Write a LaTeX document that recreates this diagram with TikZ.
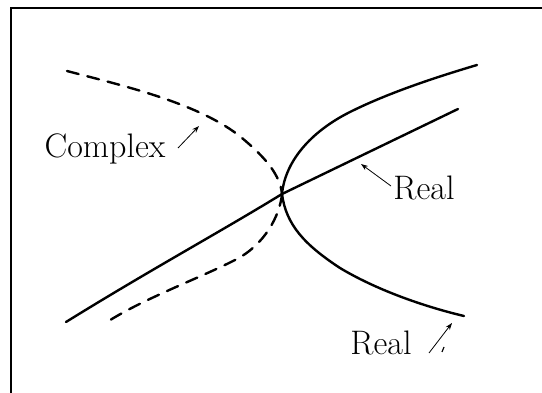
\documentclass[tikz,border=0pt]{standalone}
\usetikzlibrary{arrows.meta}
\begin{document}
\begin{tikzpicture}[x=1pt,y=-1pt,
  curve/.style={line width=2.4pt,line cap=round,line join=round},
  dcurve/.style={curve,dash pattern=on 12pt off 9pt},
  lbl/.style={font=\fontsize{34}{40}\selectfont,inner sep=0pt},
  ptr/.style={line width=0.8pt,-{Stealth[length=7pt,width=5pt]}}]
\useasboundingbox (0,0) rectangle (542,393);
\fill[white] (0,0) rectangle (542,393);
% frame
\draw[line width=1.4pt] (11,393) -- (11,8) -- (542,8);
% crossing point
\coordinate (X) at (282,194);
% straight line
\draw[curve] (66,322) .. controls (150,270) and (220,232) .. (X) -- (458,109);
% upper solid branch
\draw[curve] (X) .. controls (285,162) and (310,132) .. (350,112) .. controls (390,92) and (440,76) .. (477,65);
% lower solid branch
\draw[curve] (X) .. controls (286,225) and (305,245) .. (340,268) .. controls (380,292) and (430,308) .. (464,316);
% dashed upper branch
\draw[dcurve] (67,71) .. controls (120,85) and (200,103) .. (242,138) .. controls (266,158) and (280,175) .. (X);
% dashed lower branch
\draw[dcurve] (X) .. controls (280,215) and (265,245) .. (235,260) .. controls (200,278) and (140,300) .. (104,324);
% labels
\node[lbl] (cx) at (105,149) {Complex};
\node[lbl] (r1) at (424,188) {Real};
\node[lbl] (r2) at (381,343) {Real};
\coordinate (cxs) at (178,148);
\coordinate (cxe) at (199,126);
\coordinate (r1s) at (391,186);
\coordinate (r1e) at (361,164);
\coordinate (r2s) at (429,353);
\coordinate (r2e) at (452,323);
\draw[ptr] (cxs) -- (cxe);
\draw[ptr] (r1s) -- (r1e);
\draw[ptr] (r2s) -- (r2e);
\coordinate (t1) at (442,352);
\coordinate (t2) at (444,347);
\draw[line width=1.2pt] (t1) -- (t2);
\end{tikzpicture}
\end{document}
